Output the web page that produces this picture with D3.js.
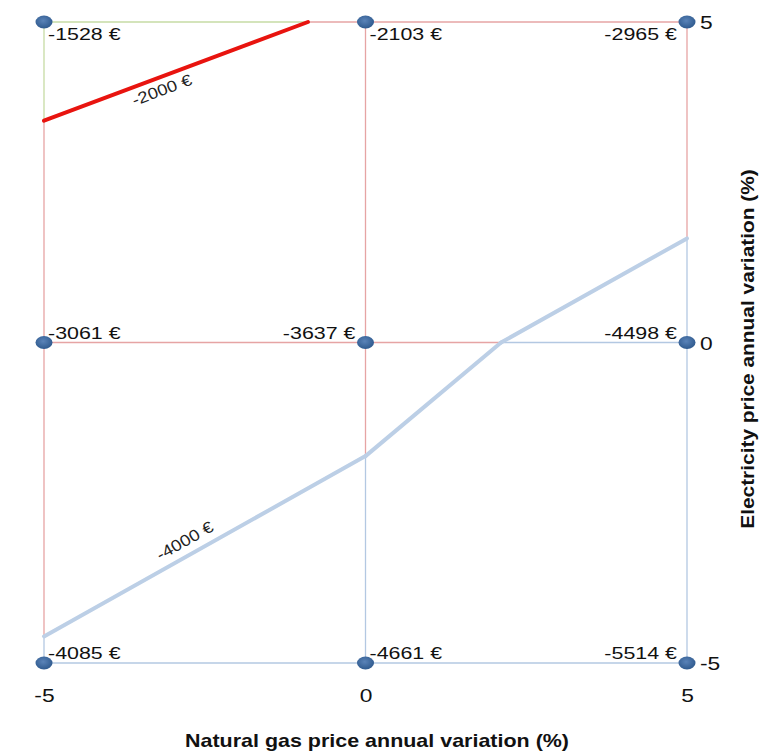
<!DOCTYPE html>
<html><head><meta charset="utf-8">
<script src="https://cdn.jsdelivr.net/npm/d3@7"></script>
<style>html,body{margin:0;padding:0;background:#fff;}svg{display:block;}</style>
</head><body>
<svg id="chart" width="762" height="751"></svg>
<script>
// ---- data ----
const gasVariation = [-5, 0, 5];            // x (%)
const elecVariation = [5, 0, -5];           // y (%), rows top->bottom
const costRow5  = [-1528, -2103, -2965];
const costRow0  = [-3061, -3637, -4498];
const costRowM5 = [-4085, -4661, -5514];
const contourLevels = [-2000, -4000];
const contourLabels = ["-2000 €", "-4000 €"];
const xTicks = [-5, 0, 5];
const yTicks = [5, 0, -5];
const xTitle = "Natural gas price annual variation (%)";
const yTitle = "Electricity price annual variation (%)";

// ---- styles ----
const grid = [costRow5, costRow0, costRowM5];
const bandColor = v => v > -2000 ? "#c6dba4" : (v > -4000 ? "#e6a4a4" : "#b3c8e2");
const contourColor = ["#e8140f", "#bccfe6"];
const labelSide = [["r","r","l"],["r","l","l"],["r","r","l"]];

const svg = d3.select("#chart");
const x = d3.scaleLinear().domain([-5, 5]).range([44, 687]);
const y = d3.scaleLinear().domain([-5, 5]).range([663, 22]);
const font = "'Liberation Sans', Arial, sans-serif";

// ---- grid edges coloured by band ----
function edgeSegments(p0, p1, v0, v1) {
  const ts = [0];
  contourLevels.forEach(l => {
    if ((v0 - l) * (v1 - l) < 0) ts.push((l - v0) / (v1 - v0));
  });
  ts.push(1); ts.sort((a, b) => a - b);
  const segs = [];
  for (let i = 0; i < ts.length - 1; i++) {
    const tm = (ts[i] + ts[i + 1]) / 2;
    segs.push({
      a: [p0[0] + (p1[0] - p0[0]) * ts[i], p0[1] + (p1[1] - p0[1]) * ts[i]],
      b: [p0[0] + (p1[0] - p0[0]) * ts[i + 1], p0[1] + (p1[1] - p0[1]) * ts[i + 1]],
      v: v0 + (v1 - v0) * tm
    });
  }
  return segs;
}
let edges = [];
for (let r = 0; r < 3; r++) for (let c = 0; c < 3; c++) {
  if (c < 2) edges = edges.concat(edgeSegments([gasVariation[c], elecVariation[r]], [gasVariation[c+1], elecVariation[r]], grid[r][c], grid[r][c+1]));
  if (r < 2) edges = edges.concat(edgeSegments([gasVariation[c], elecVariation[r]], [gasVariation[c], elecVariation[r+1]], grid[r][c], grid[r+1][c]));
}
svg.append("g").selectAll("line").data(edges).join("line")
  .attr("x1", d => x(d.a[0])).attr("y1", d => y(d.a[1]))
  .attr("x2", d => x(d.b[0])).attr("y2", d => y(d.b[1]))
  .attr("stroke", d => bandColor(d.v)).attr("stroke-width", 1.3);

// ---- contour lines (marching squares on the 3x3 grid) ----
function crossing(p0, p1, v0, v1, l) {
  if ((v0 - l) * (v1 - l) >= 0) return null;
  const t = (l - v0) / (v1 - v0);
  return [p0[0] + (p1[0] - p0[0]) * t, p0[1] + (p1[1] - p0[1]) * t];
}
const contourSegs = [];
contourLevels.forEach((l, li) => {
  for (let r = 0; r < 2; r++) for (let c = 0; c < 2; c++) {
    const P = (rr, cc) => [gasVariation[cc], elecVariation[rr]];
    const V = (rr, cc) => grid[rr][cc];
    const pts = [
      crossing(P(r,c), P(r,c+1), V(r,c), V(r,c+1), l),
      crossing(P(r,c+1), P(r+1,c+1), V(r,c+1), V(r+1,c+1), l),
      crossing(P(r+1,c+1), P(r+1,c), V(r+1,c+1), V(r+1,c), l),
      crossing(P(r+1,c), P(r,c), V(r+1,c), V(r,c), l)
    ].filter(p => p);
    if (pts.length === 2) contourSegs.push({level: li, r, c, a: pts[0], b: pts[1]});
  }
});
svg.append("g").selectAll("line").data(contourSegs).join("line")
  .attr("x1", d => x(d.a[0])).attr("y1", d => y(d.a[1]))
  .attr("x2", d => x(d.b[0])).attr("y2", d => y(d.b[1]))
  .attr("stroke", d => contourColor[d.level]).attr("stroke-width", 4)
  .attr("stroke-linecap", "round");

// contour labels on the segment touching the left edge
contourLevels.forEach((l, li) => {
  const s = contourSegs.find(d => d.level === li && d.c === 0);
  let A = [x(s.a[0]), y(s.a[1])], B = [x(s.b[0]), y(s.b[1])];
  if (A[0] > B[0]) [A, B] = [B, A];
  const f = li === 0 ? 0.43 : 0.46;
  const px = A[0] + (B[0] - A[0]) * f, py = A[1] + (B[1] - A[1]) * f;
  const ang = Math.atan2(B[1] - A[1], B[0] - A[0]) * 180 / Math.PI;
  const off = li === 0 ? 18 : -9;
  svg.append("text")
    .attr("transform", `translate(${px},${py}) rotate(${ang}) translate(0,${off}) scale(1.15,1)`)
    .attr("text-anchor", "middle")
    .attr("font-family", font).attr("font-size", 16).attr("fill", "#222")
    .text(contourLabels[li]);
});

// ---- points ----
const pts = [];
for (let r = 0; r < 3; r++) for (let c = 0; c < 3; c++) pts.push({r, c, gx: gasVariation[c], gy: elecVariation[r], v: grid[r][c]});
const defs = svg.append("defs");
const grad = defs.append("radialGradient").attr("id", "dotg").attr("cx", "45%").attr("cy", "40%").attr("r", "60%");
grad.append("stop").attr("offset", "0%").attr("stop-color", "#5a83b8");
grad.append("stop").attr("offset", "100%").attr("stop-color", "#2f5a8e");
svg.append("g").selectAll("ellipse").data(pts).join("ellipse")
  .attr("cx", d => x(d.gx)).attr("cy", d => y(d.gy))
  .attr("rx", 8.5).attr("ry", 6.5).attr("fill", "url(#dotg)");

// value labels
svg.append("g").selectAll("text").data(pts).join("text")
  .attr("transform", d => {
    const side = labelSide[d.r][d.c];
    const dx = side === "r" ? 4 : -10;
    const dy = d.r === 0 ? 18 : -4;
    return `translate(${x(d.gx) + dx},${y(d.gy) + dy}) scale(1.26,1)`;
  })
  .attr("text-anchor", d => labelSide[d.r][d.c] === "r" ? "start" : "end")
  .attr("font-family", font).attr("font-size", 17).attr("fill", "#111")
  .text(d => `${d.v} €`);

// ---- axes ----
const fmt = d => String(d);
const xAxis = svg.append("g").attr("transform", `translate(0,${y(-5) + 39})`)
  .call(d3.axisBottom(x).tickValues(xTicks).tickSize(0).tickFormat(fmt));
xAxis.select(".domain").remove();
xAxis.selectAll("text").attr("font-family", font).attr("font-size", 19).attr("fill", "#111")
  .attr("y", 0).attr("dy", 0).attr("transform", "scale(1.2,1)");

const yAxis = svg.append("g").attr("transform", `translate(${x(5) + 13},0)`)
  .call(d3.axisRight(y).tickValues(yTicks).tickSize(0).tickFormat(fmt));
yAxis.select(".domain").remove();
yAxis.selectAll("text").attr("font-family", font).attr("font-size", 19).attr("fill", "#111")
  .attr("x", 0).attr("dy", "0.36em").attr("transform", "scale(1.2,1)");

// titles
svg.append("text")
  .attr("transform", `translate(${377},${747}) scale(1.13,1)`)
  .attr("text-anchor", "middle").attr("font-family", font).attr("font-weight", "bold")
  .attr("font-size", 19).attr("fill", "#111").text(xTitle);
svg.append("text")
  .attr("transform", `translate(${754},${349}) rotate(-90) scale(1.16,1)`)
  .attr("text-anchor", "middle").attr("font-family", font).attr("font-weight", "bold")
  .attr("font-size", 18).attr("fill", "#111").text(yTitle);
</script>
</body></html>
